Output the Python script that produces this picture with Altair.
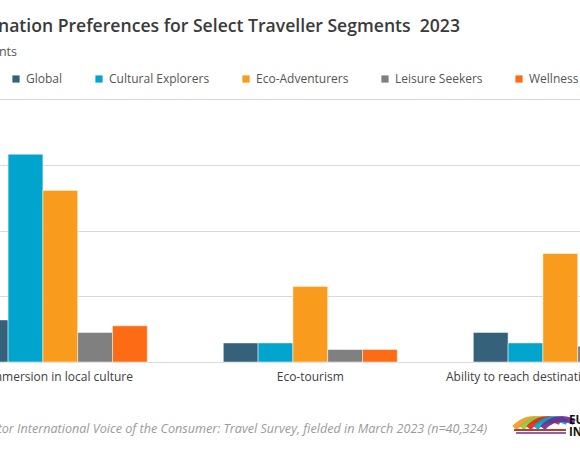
import altair as alt
import pandas as pd

# Survey categories and traveller segments
categories = [
    "Immersion in local culture",
    "Eco-tourism",
    "Ability to reach destination without flying",
]
segments = ["Global", "Cultural Explorers", "Eco-Adventurers", "Leisure Seekers", "Wellness Seekers"]
segment_colors = ["#35617b", "#00a4cd", "#f99b1c", "#808080", "#fd6b14"]

# % of respondents, one list per segment (same order as categories)
global_vals = [6.4, 2.9, 4.5]
cultural_vals = [31.6, 2.9, 2.9]
eco_vals = [26.1, 11.5, 16.5]
leisure_vals = [4.5, 1.9, 2.4]
wellness_vals = [5.5, 1.9, 3.0]

title_text = "Destination Preferences for Select Traveller Segments\u00a0 2023"
subtitle_text = "% of respondents"
source_text = ("Source: Euromonitor International Voice of the Consumer: Travel Survey, "
               "fielded in March 2023 (n=40,324)")

series = [global_vals, cultural_vals, eco_vals, leisure_vals, wellness_vals]
rows = []
for seg, vals in zip(segments, series):
    for cat, v in zip(categories, vals):
        rows.append({"category": cat, "segment": seg, "value": v})
df = pd.DataFrame(rows)

TOP = 99          # top of the plot area
PLOT_H = 263      # plot area height
FONT = "Open Sans"

bars = alt.Chart(df).mark_bar(stroke="white", strokeWidth=0.7, strokeOpacity=0.7).encode(
    x=alt.X(
        "category:N",
        sort=categories,
        scale=alt.Scale(range=[-26.7, 647.3], paddingInner=0.304, paddingOuter=0),
        axis=alt.Axis(
            title=None, labelAngle=0, ticks=False, domainColor="#d9d9d9",
            labelFont=FONT, labelFontSize=12, labelColor="#404040",
            labelPadding=9, labelLimit=0, labelOverlap=False, labelFlush=False,
        ),
    ),
    xOffset=alt.XOffset("segment:N", sort=segments, scale=alt.Scale(paddingInner=0)),
    y=alt.Y(
        "value:Q",
        scale=alt.Scale(domain=[0, 40]),
        axis=alt.Axis(
            values=[0, 10, 20, 30, 40], title=None, labels=False, ticks=False,
            domain=False, gridColor="#d9d9d9", gridWidth=1,
        ),
    ),
    color=alt.Color(
        "segment:N",
        sort=segments,
        scale=alt.Scale(domain=segments, range=segment_colors),
        legend=alt.Legend(
            title=None, orient="none", legendX=10, legendY=-26, direction="horizontal",
            columns=5, symbolType="square", symbolSize=52, symbolStrokeWidth=0,
            labelFont=FONT, labelFontSize=12, labelColor="#555555",
            labelOffset=4, columnPadding=30,
        ),
    ),
)

def label(text, x, y, **kw):
    return alt.Chart(pd.DataFrame({"t": [text]})).mark_text(font=FONT, **kw).encode(
        x=alt.value(x), y=alt.value(y - TOP), text="t:N"
    )

title = label(title_text, 460, 32, align="right", baseline="alphabetic",
              fontSize=17.6, fontWeight=600, color="#3a3a3a")
subtitle = label(subtitle_text, 17, 56, align="right", baseline="alphabetic",
                 fontSize=12.5, color="#555555")
source = label(source_text, 487, 433, align="right", baseline="alphabetic",
               fontSize=12.6, fontStyle="italic", color="#9a9a9a")

# Small brand mark in the footer: coloured arches plus lettering
arch_colors = ["#f7941d", "#8dc63f", "#e2231a", "#00a4cd", "#6a2c91"]
arches = alt.layer(*[
    alt.Chart(pd.DataFrame({"c": [c]})).mark_arc(
        x=534 + 7 * i, y=444 - TOP, radius=28, radius2=22,
        theta=5.4, theta2=6.8, opacity=0.9,
    ).encode(fill=alt.value(c))
    for i, c in enumerate(arch_colors)
])
band = alt.Chart(pd.DataFrame({"a": [0]})).mark_rule(color="#c0392b", strokeWidth=2).encode(
    x=alt.value(514), x2=alt.value(566), y=alt.value(430 - TOP)
)
band2 = alt.Chart(pd.DataFrame({"a": [0]})).mark_rule(color="#6a2c91", strokeWidth=1.5).encode(
    x=alt.value(516), x2=alt.value(566), y=alt.value(433 - TOP)
)
eu = label("EU", 569, 424, align="left", baseline="alphabetic",
           fontSize=11.5, fontWeight="bold", color="#111111")
inn = label("IN", 569, 436, align="left", baseline="alphabetic",
            fontSize=11.5, fontWeight="bold", color="#111111")

chart = alt.layer(bars, title, subtitle, source, arches, band, band2, eu, inn).properties(
    width=580,
    height=PLOT_H,
    autosize=alt.AutoSizeParams(type="none"),
    padding={"left": 0, "top": TOP, "right": 0, "bottom": 460 - TOP - PLOT_H},
    background="white",
).configure_view(stroke=None)

chart.save("out.html", embed_options={"renderer": "svg", "actions": False})
